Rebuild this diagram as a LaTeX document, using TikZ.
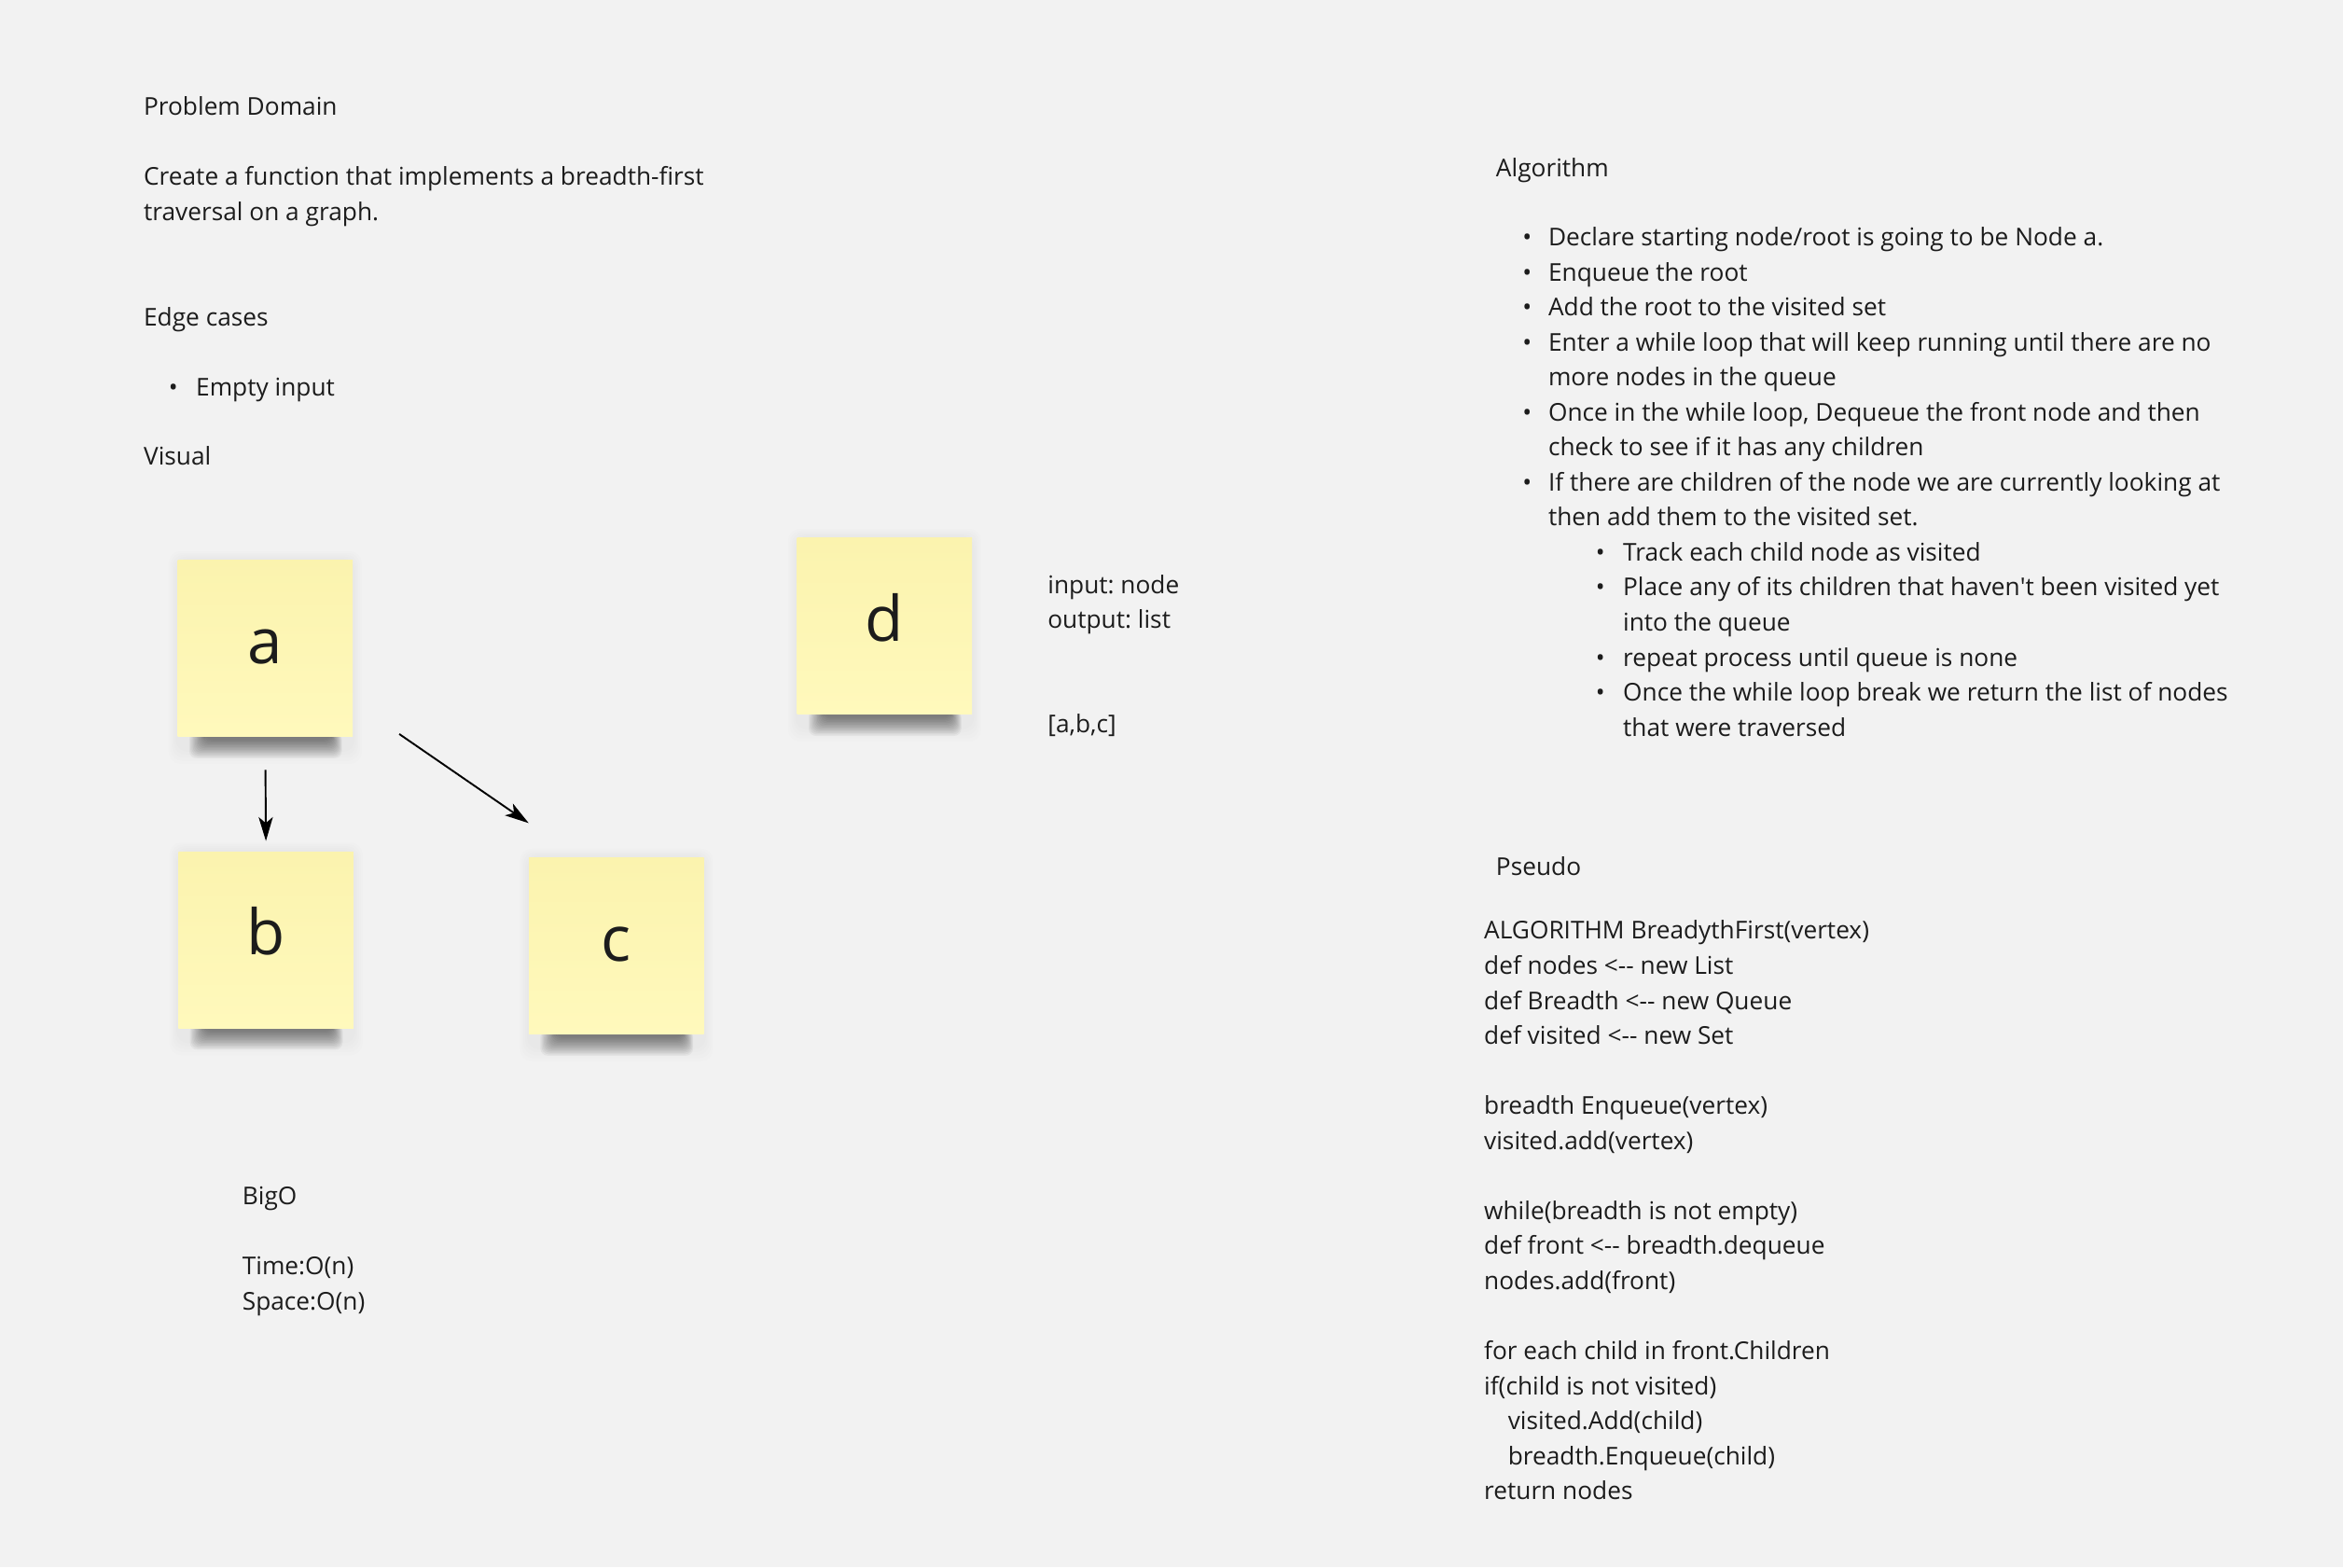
\documentclass[tikz,border=0pt]{standalone}
\usepackage{fontspec}
\setmainfont{Open Sans}
\usetikzlibrary{arrows.meta}
\definecolor{bgc}{HTML}{F2F2F2}
\definecolor{txtc}{HTML}{1C1C1C}
\definecolor{stickytop}{HTML}{FBF3AE}
\definecolor{stickybot}{HTML}{FFF9BC}
\pgfdeclarelayer{bglayer}
\pgfdeclarelayer{shadowlayer}
\pgfsetlayers{bglayer,shadowlayer,main}
\frenchspacing
\newcommand\stickyshade[1]{%
  \foreach \i in {1,...,14}{%
    \fill[black,opacity=0.04,rounded corners=5pt]
      ([xshift={19pt-\i*0.8pt},yshift=3pt]#1.south west) rectangle
      ([xshift={-15pt+\i*0.55pt},yshift={-1pt-\i*0.95pt}]#1.south east);
  }%
  \foreach \i in {1,...,5}{%
    \fill[black,opacity=0.008,rounded corners=8pt]
      ([xshift={-\i*1.2pt},yshift={\i*1.2pt}]#1.north west) rectangle
      ([xshift={\i*1.2pt},yshift={-8pt-\i*2pt}]#1.south east);
  }}
\begin{document}
\begin{tikzpicture}[x=1pt,y=-1pt,
  txt/.style={anchor=base west, inner sep=0pt, text=txtc, font=\fontsize{16.4}{23.4}\selectfont\frenchspacing},
  bul/.style={anchor=base, inner sep=0pt, text=txtc, font=\fontsize{16.4}{23.4}\selectfont},
  sticky/.style={minimum width=117pt, minimum height=118pt, inner sep=0pt,
    text height=30pt, text depth=10pt, top color=stickytop, bottom color=stickybot,
    draw=none, text=txtc, font=\fontsize{42}{50}\selectfont},
  link/.style={draw=black, line width=1.2pt, -{Stealth[length=16pt,width=9.5pt,inset=4pt]}}]
\begin{pgfonlayer}{bglayer}
  \fill[bgc] (0,0) rectangle (1568,1048.7);
\end{pgfonlayer}
\useasboundingbox (0,0) rectangle (1568,1048.7);

% left column
\node[txt] (pd) at (96,77) {Problem Domain};
\node[txt] (cr1) at (96,124) {Create a function that implements a breadth-first};
\node[txt] (cr2) at (96,147.5) {traversal on a graph.};
\node[txt] (ec) at (96,218) {Edge cases};
\node[bul] (eb) at (116,265) {•};
\node[txt] (ei) at (131,265) {Empty input};
\node[txt] (vis) at (96,311) {Visual};

% sticky notes
\node[sticky] (a) at (177.5,434) {a};
\node[sticky] (b) at (178,629) {b};
\node[sticky] (c) at (412.5,633) {c};
\node[sticky] (d) at (592,419) {d};
\begin{pgfonlayer}{shadowlayer}
  \stickyshade{a}\stickyshade{b}\stickyshade{c}\stickyshade{d}
\end{pgfonlayer}

\draw[link, shorten <=22pt, shorten >=7pt] (a.south) -- (b.north);
\coordinate (acs) at ([xshift=31pt,yshift=2pt]a.south east);
\coordinate (ace) at ([yshift=23pt]c.north west);
\draw[link] (acs) -- (ace);

\node[txt] (in) at (701,397) {input: node};
\node[txt] (out) at (701,420.5) {output: list};
\node[txt] (res) at (701,490) {[a,b,c]};

\node[txt] (bigo) at (162,806) {BigO};
\node[txt] (time) at (162,853) {Time:O(n)};
\node[txt] (space) at (162,876.5) {Space:O(n)};

% algorithm
\node[txt] (alg) at (1001,118) {Algorithm};
\node[bul] (ab1) at (1022,164.5) {•};
\node[txt] (al1) at (1036,164.5) {Declare starting node/root is going to be Node a.};
\node[bul] (ab2) at (1022,187.9) {•};
\node[txt] (al2) at (1036,187.9) {Enqueue the root};
\node[bul] (ab3) at (1022,211.4) {•};
\node[txt] (al3) at (1036,211.4) {Add the root to the visited set};
\node[bul] (ab4) at (1022,234.8) {•};
\node[txt] (al4) at (1036,234.8) {Enter a while loop that will keep running until there are no};
\node[txt] (al5) at (1036,258.2) {more nodes in the queue};
\node[bul] (ab6) at (1022,281.7) {•};
\node[txt] (al6) at (1036,281.7) {Once in the while loop, Dequeue the front node and then};
\node[txt] (al7) at (1036,305.1) {check to see if it has any children};
\node[bul] (ab8) at (1022,328.5) {•};
\node[txt] (al8) at (1036,328.5) {If there are children of the node we are currently looking at};
\node[txt] (al9) at (1036,352.0) {then add them to the visited set.};
\node[bul] (ab10) at (1071,375.4) {•};
\node[txt] (al10) at (1086,375.4) {Track each child node as visited};
\node[bul] (ab11) at (1071,398.8) {•};
\node[txt] (al11) at (1086,398.8) {Place any of its children that haven\textquotesingle t been visited yet};
\node[txt] (al12) at (1086,422.2) {into the queue};
\node[bul] (ab13) at (1071,445.7) {•};
\node[txt] (al13) at (1086,445.7) {repeat process until queue is none};
\node[bul] (ab14) at (1071,469.1) {•};
\node[txt] (al14) at (1086,469.1) {Once the while loop break we return the list of nodes};
\node[txt] (al15) at (1086,492.5) {that were traversed};

% pseudo
\node[txt] (ps) at (1001,586) {Pseudo};
\node[txt] (c0) at (993,628.5) {ALGORITHM BreadythFirst(vertex)};
\node[txt] (c1) at (993,651.9) {def nodes <-\kern0pt- new List};
\node[txt] (c2) at (993,675.4) {def Breadth <-\kern0pt- new Queue};
\node[txt] (c3) at (993,698.8) {def visited <-\kern0pt- new Set};
\node[txt] (c5) at (993,745.7) {breadth Enqueue(vertex)};
\node[txt] (c6) at (993,769.1) {visited.add(vertex)};
\node[txt] (c8) at (993,816.0) {while(breadth is not empty)};
\node[txt] (c9) at (993,839.5) {def front <-\kern0pt- breadth.dequeue};
\node[txt] (c10) at (993,862.9) {nodes.add(front)};
\node[txt] (c12) at (993,909.8) {for each child in front.Children};
\node[txt] (c13) at (993,933.2) {if(child is not visited)};
\node[txt] (c14) at (1009,956.7) {visited.Add(child)};
\node[txt] (c15) at (1009,980.1) {breadth.Enqueue(child)};
\node[txt] (c16) at (993,1003.5) {return nodes};
\end{tikzpicture}
\end{document}
